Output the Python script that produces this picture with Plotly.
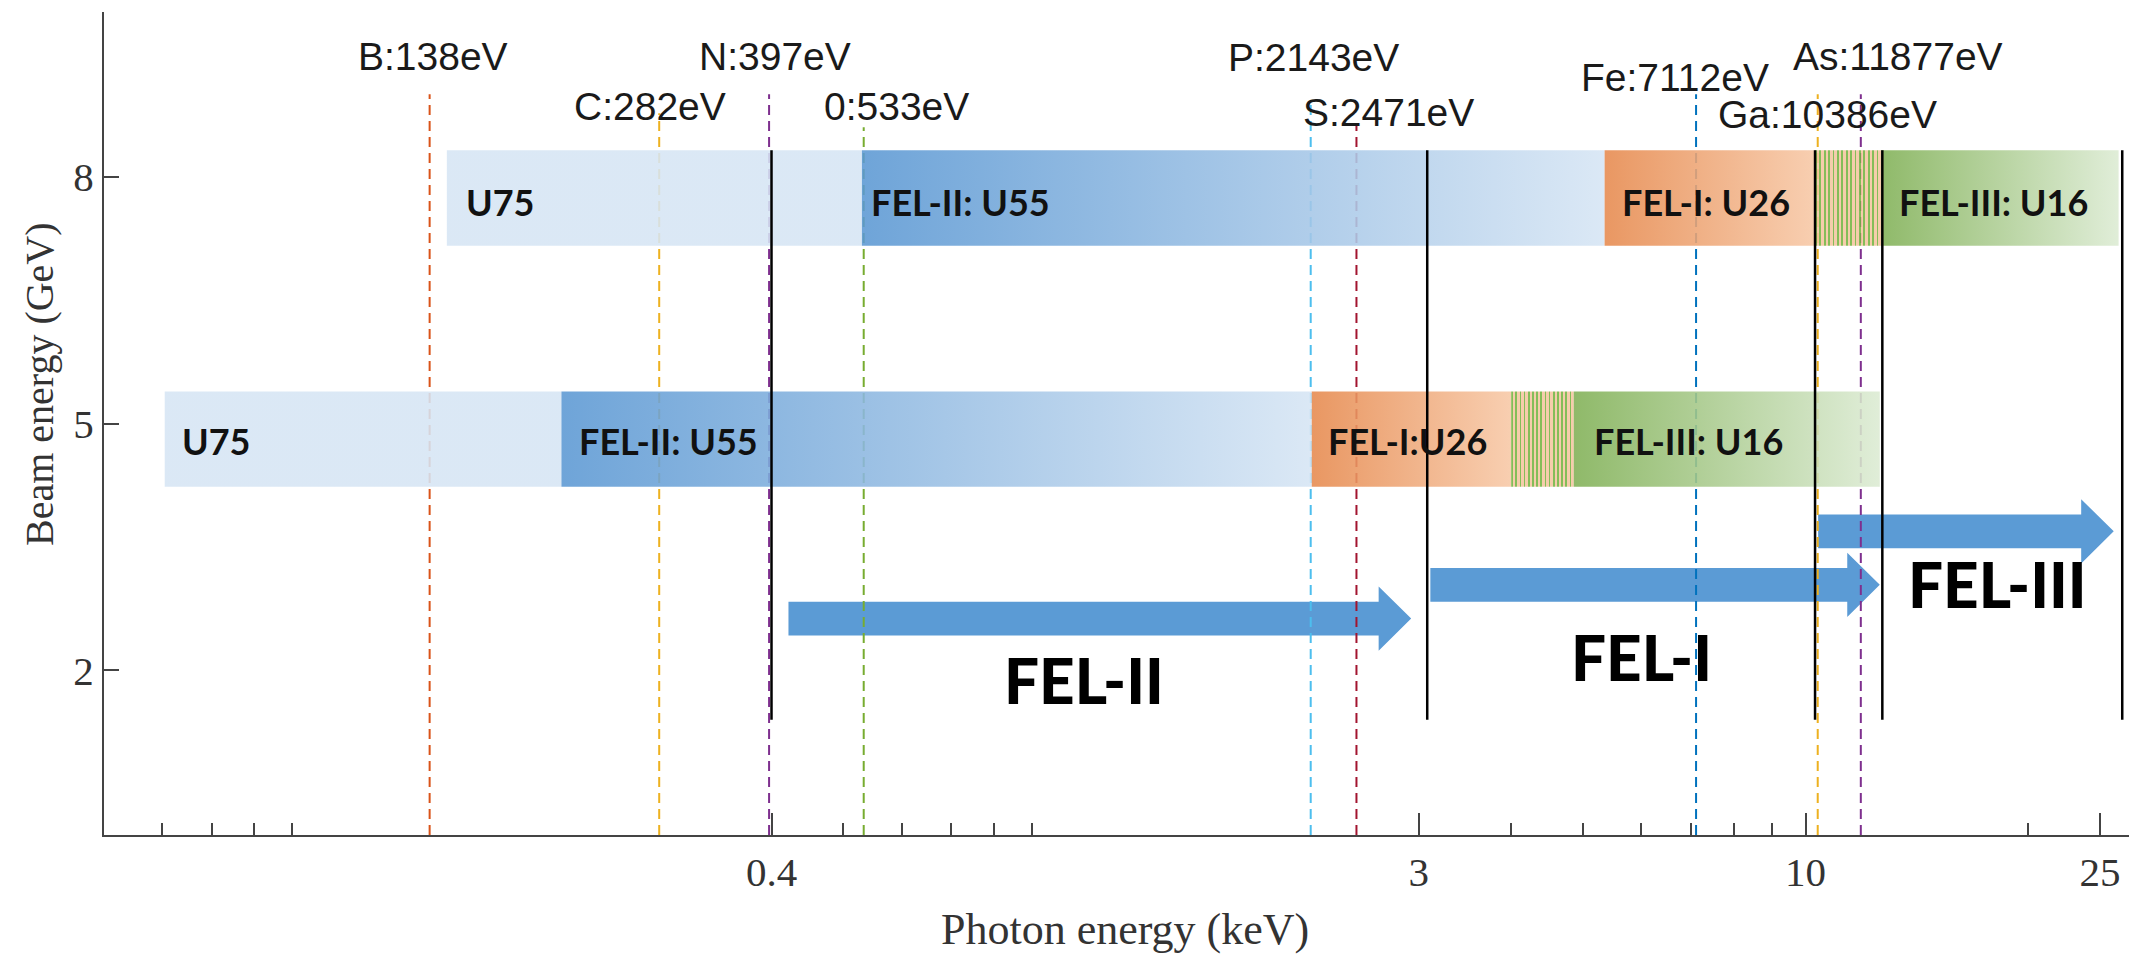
import math
import plotly.graph_objects as go

# ---------------- data ----------------
x_range_kev = [0.05008, 27.37]
y_range_gev = [0, 10]
x_tick_vals = [0.4, 3, 10, 25]
x_tick_text = ["0.4", "3", "10", "25"]
x_minor_vals = [0.06, 0.07, 0.08, 0.09, 0.5, 0.6, 0.7, 0.8, 0.9, 4, 5, 6, 7, 8, 9, 20]
y_tick_vals = [2, 5, 8]
y_tick_text = ["2", "5", "8"]

# absorption edges (keV)
edge_names = ["B:138eV", "C:282eV", "N:397eV", "0:533eV", "P:2143eV",
              "S:2471eV", "Fe:7112eV", "Ga:10386eV", "As:11877eV"]
edge_kev = [0.138, 0.282, 0.397, 0.533, 2.143, 2.471, 7.112, 10.386, 11.877]
edge_top = [9.0, 8.77, 9.0, 8.6, 8.9, 8.65, 9.0, 9.0, 9.0]
edge_label_x = [0.1396, 0.274, 0.404, 0.591, 2.16, 2.73, 6.66, 10.72, 13.34]
edge_label_y = [9.46, 8.85, 9.46, 8.85, 9.45, 8.78, 9.21, 8.76, 9.46]

# undulator coverage bars: beam energy 8 GeV row and 5 GeV row
row8_bounds = [0.1456, 0.53, 5.35, 10.3, 12.65, 26.5]
row8_kinds = ["U75", "U55", "U26", "mix", "U16"]
row8_labels = ["U75", "FEL-II: U55", "FEL-I: U26", "", "FEL-III: U16"]
row8_label_x = [0.1536, 0.542, 5.61, None, 13.3]
row8_y = [7.16, 8.32]
row8_label_y = 7.69

row5_bounds = [0.0605, 0.208, 2.15, 4.0, 4.86, 12.6]
row5_kinds = ["U75", "U55", "U26", "mix", "U16"]
row5_labels = ["U75", "FEL-II: U55", "FEL-I:U26", "", "FEL-III: U16"]
row5_label_x = [0.0634, 0.218, 2.25, None, 5.14]
row5_y = [4.23, 5.39]
row5_label_y = 4.79

# black divider lines (keV), vertical span (GeV)
divider_kev = [0.4, 3.08, 10.3, 12.7, 26.8]
divider_y = [1.4, 8.32]

# FEL line arrows
arrow_names = ["FEL-II", "FEL-I", "FEL-III"]
arrow_start = [0.4217, 3.11, 10.4]
arrow_tip = [2.93, 12.6, 26.1]
arrow_y = [2.63, 3.04, 3.69]
arrow_label_x = [1.058, 6.01, 18.15]
arrow_label_y = [1.88, 2.16, 3.05]

# ---------------- styles ----------------
edge_colors = ["#d95319", "#edb120", "#7e2f8e", "#77ac30", "#4dbeee",
               "#a2142f", "#0072bd", "#edb120", "#7e2f8e"]
kind_scales = {
    "U75": [[0, "#d6e5f4"], [1, "#d6e5f4"]],
    "U55": [[0, "#5b98d3"], [1, "#d6e5f4"]],
    "U26": [[0, "#e6894d"], [1, "#f7c8a6"]],
    "U16": [[0, "#80b055"], [1, "#dcebd3"]],
}
ARROW_COLOR = "#5b9bd5"
PX_PER_DECADE = 739.7


def stripe_scale(x0, x1):
    n = max(4, int(round(math.log10(x1 / x0) * PX_PER_DECADE / 4.3)))
    cs = []
    eps = 1e-4
    for i in range(n):
        a = i / n
        m = (i + 0.4) / n
        b = (i + 1) / n
        cs.append([a + (eps if i else 0), "#74b441"])
        cs.append([m, "#74b441"])
        cs.append([m + eps, "#f4c6a0"])
        cs.append([b, "#f4c6a0"])
    return cs


fig = go.Figure()

# arrows (under dashed lines)
for x0, tip, yc in zip(arrow_start, arrow_tip, arrow_y):
    xb = tip / 10 ** 0.044
    bh, hh = 0.205, 0.39
    xs = [x0, xb, xb, tip, xb, xb, x0, x0]
    ys = [yc + bh, yc + bh, yc + hh, yc, yc - hh, yc - bh, yc - bh, yc + bh]
    fig.add_trace(go.Scatter(x=xs, y=ys, mode="lines", fill="toself",
                             fillcolor=ARROW_COLOR, line=dict(width=0),
                             hoverinfo="skip", showlegend=False))

# dashed element lines
for xk, top, col in zip(edge_kev, edge_top, edge_colors):
    fig.add_trace(go.Scatter(x=[xk, xk], y=[0, top], mode="lines",
                             line=dict(color=col, width=2, dash="10px,6px"),
                             hoverinfo="skip", showlegend=False))

# bars
for bounds, kinds, (y0, y1) in [(row8_bounds, row8_kinds, row8_y),
                                (row5_bounds, row5_kinds, row5_y)]:
    for i, kind in enumerate(kinds):
        x0, x1 = bounds[i], bounds[i + 1]
        cs = stripe_scale(x0, x1) if kind == "mix" else kind_scales[kind]
        fig.add_trace(go.Scatter(
            x=[x0, x1, x1, x0, x0], y=[y0, y0, y1, y1, y0], mode="lines",
            fill="toself", line=dict(width=0),
            fillgradient=dict(type="horizontal", colorscale=cs),
            opacity=0.88, hoverinfo="skip", showlegend=False))

# black dividers
for xk in divider_kev:
    fig.add_trace(go.Scatter(x=[xk, xk], y=divider_y, mode="lines",
                             line=dict(color="black", width=2.5),
                             hoverinfo="skip", showlegend=False))

ann = []
for name, lx, ly in zip(edge_names, edge_label_x, edge_label_y):
    ann.append(dict(x=math.log10(lx), y=ly, text=name, showarrow=False,
                    xanchor="center", yanchor="middle",
                    font=dict(family="Liberation Sans", size=39, color="#1a1a1a")))

for labels, lxs, ly in [(row8_labels, row8_label_x, row8_label_y),
                        (row5_labels, row5_label_x, row5_label_y)]:
    for t, lx in zip(labels, lxs):
        if not t:
            continue
        ann.append(dict(x=math.log10(lx), y=ly, text=t, showarrow=False,
                        xanchor="left", yanchor="middle",
                        font=dict(family="Lato", size=36, color="#111",
                                  weight="bold")))

for t, lx, ly in zip(arrow_names, arrow_label_x, arrow_label_y):
    ann.append(dict(x=math.log10(lx), y=ly, text=t, showarrow=False,
                    xanchor="center", yanchor="middle",
                    font=dict(family="Lato", size=62, color="#000",
                              weight=900)))

ann.append(dict(xref="paper", yref="paper", x=0.504, y=-0.1154,
                text="Photon energy (keV)", showarrow=False,
                xanchor="center", yanchor="middle",
                font=dict(family="Liberation Serif", size=44, color="#333")))
ann.append(dict(xref="paper", yref="paper", x=-0.0316, y=0.548,
                text="Beam energy (GeV)", showarrow=False, textangle=-90,
                xanchor="center", yanchor="middle",
                font=dict(family="Liberation Serif", size=40, color="#333")))

fig.update_layout(
    width=2129, height=954, autosize=False,
    margin=dict(l=104, r=0, t=12, b=119, pad=0),
    paper_bgcolor="white", plot_bgcolor="white",
    annotations=ann,
    xaxis=dict(type="log",
               range=[math.log10(x_range_kev[0]), math.log10(x_range_kev[1])],
               showline=True, linecolor="#444", linewidth=2,
               ticks="inside", ticklen=22, tickwidth=1.5, tickcolor="#444",
               tickvals=x_tick_vals, ticktext=x_tick_text,
               tickfont=dict(family="Liberation Serif", size=41, color="#333"),
               showgrid=False, zeroline=False,
               minor=dict(tickvals=x_minor_vals, ticks="inside", ticklen=12,
                          tickwidth=1.5, tickcolor="#444", showgrid=False)),
    yaxis=dict(range=y_range_gev, showline=True, linecolor="#444", linewidth=2,
               ticks="inside", ticklen=15, tickwidth=1.5, tickcolor="#444",
               tickvals=y_tick_vals, ticktext=y_tick_text,
               tickfont=dict(family="Liberation Serif", size=41, color="#333"),
               showgrid=False, zeroline=False),
)

fig.write_html("out.html",
               config={"displayModeBar": False},
               post_script="document.body.style.margin='0px';"
                           "document.body.style.overflow='hidden';")
